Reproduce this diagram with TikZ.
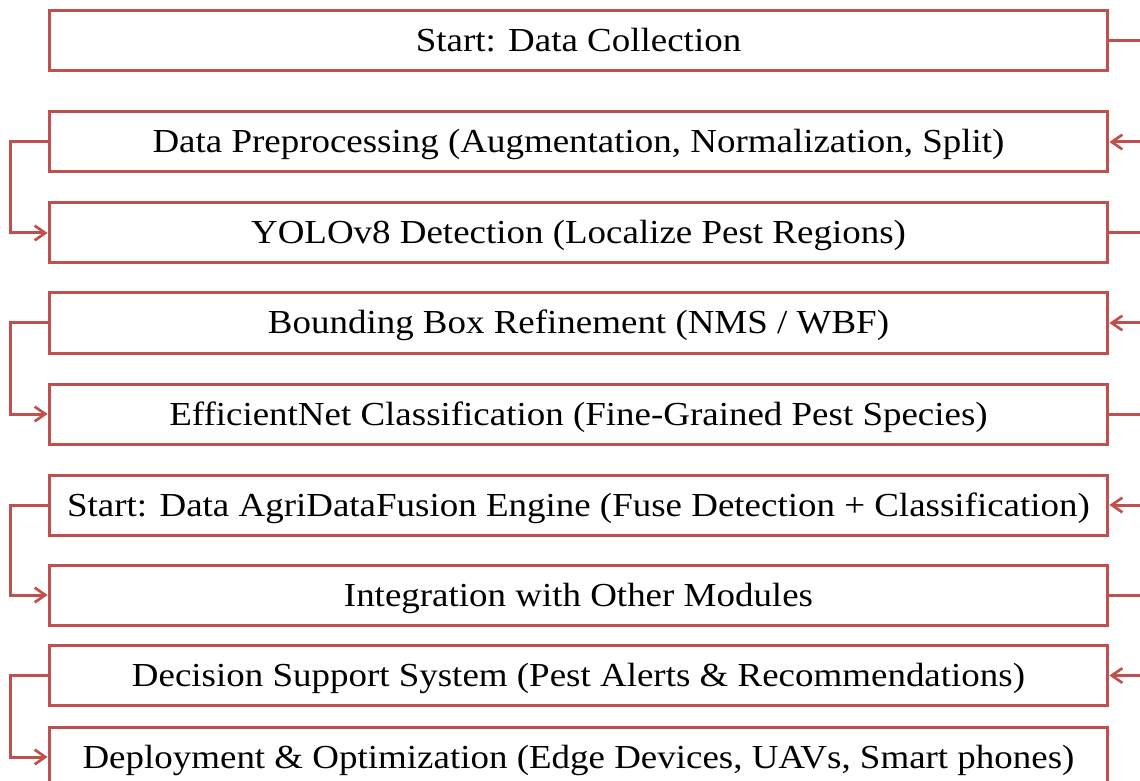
\documentclass[tikz,border=0pt]{standalone}
\usepackage{fontspec}
\setmainfont{Liberation Serif}[FakeStretch=1.1]
\usepackage{xcolor}
\usetikzlibrary{arrows.meta,positioning}
\definecolor{flowred}{HTML}{C0504D}

\begin{document}
\begin{tikzpicture}[
    x=0.75pt, y=-0.75pt,
    stepbox/.style={draw=flowred, line width=2.25pt, rectangle,
        minimum width=794pt, minimum height=45pt, inner sep=1pt,
        text height=19.5pt, text depth=3pt,
        text centered, font=\fontsize{25.2}{29}\selectfont},
    flowedge/.style={draw=flowred, line width=2.25pt,
        -{Straight Barb[length=8pt,width=11pt,line width=2pt]}}
]
\useasboundingbox (0,0) rectangle (1140,781);
\clip (0,0) rectangle (1140,781);

\node[stepbox] (collect) at (578.5,41) {Start: Data Collection};
\node[stepbox] (prep) at (578.5,142) {Data Preprocessing (Augmentation, Normalization, Split)};
\node[stepbox] (yolo) at (578.5,233) {YOLOv8 Detection (Localize Pest Regions)};
\node[stepbox] (refine) at (578.5,323) {Bounding Box Refinement (NMS / WBF)};
\node[stepbox] (effnet) at (578.5,414) {EfficientNet Classification (Fine-Grained Pest Species)};
\node[stepbox] (fusion) at (578.5,505) {Start: Data AgriDataFusion Engine (Fuse Detection + Classification)};
\node[stepbox] (integr) at (578.5,595) {Integration with Other Modules};
\node[stepbox] (dss) at (578.5,675.5) {Decision Support System (Pest Alerts \& Recommendations)};
\node[stepbox] (deploy) at (578.5,757) {Deployment \& Optimization (Edge Devices, UAVs, Smart phones)};

% right side loops (run off the page)
\draw[flowedge] (collect.east) -- ++(45,0) |- (prep.east);
\draw[flowedge] (yolo.east) -- ++(45,0) |- (refine.east);
\draw[flowedge] (effnet.east) -- ++(45,0) |- (fusion.east);
\draw[flowedge] (integr.east) -- ++(45,0) |- (dss.east);

% left side loops
\draw[flowedge] (prep.west) -- ++(-37,0) |- (yolo.west);
\draw[flowedge] (refine.west) -- ++(-37,0) |- (effnet.west);
\draw[flowedge] (fusion.west) -- ++(-37,0) |- (integr.west);
\draw[flowedge] (dss.west) -- ++(-37,0) |- (deploy.west);
\end{tikzpicture}
\end{document}
